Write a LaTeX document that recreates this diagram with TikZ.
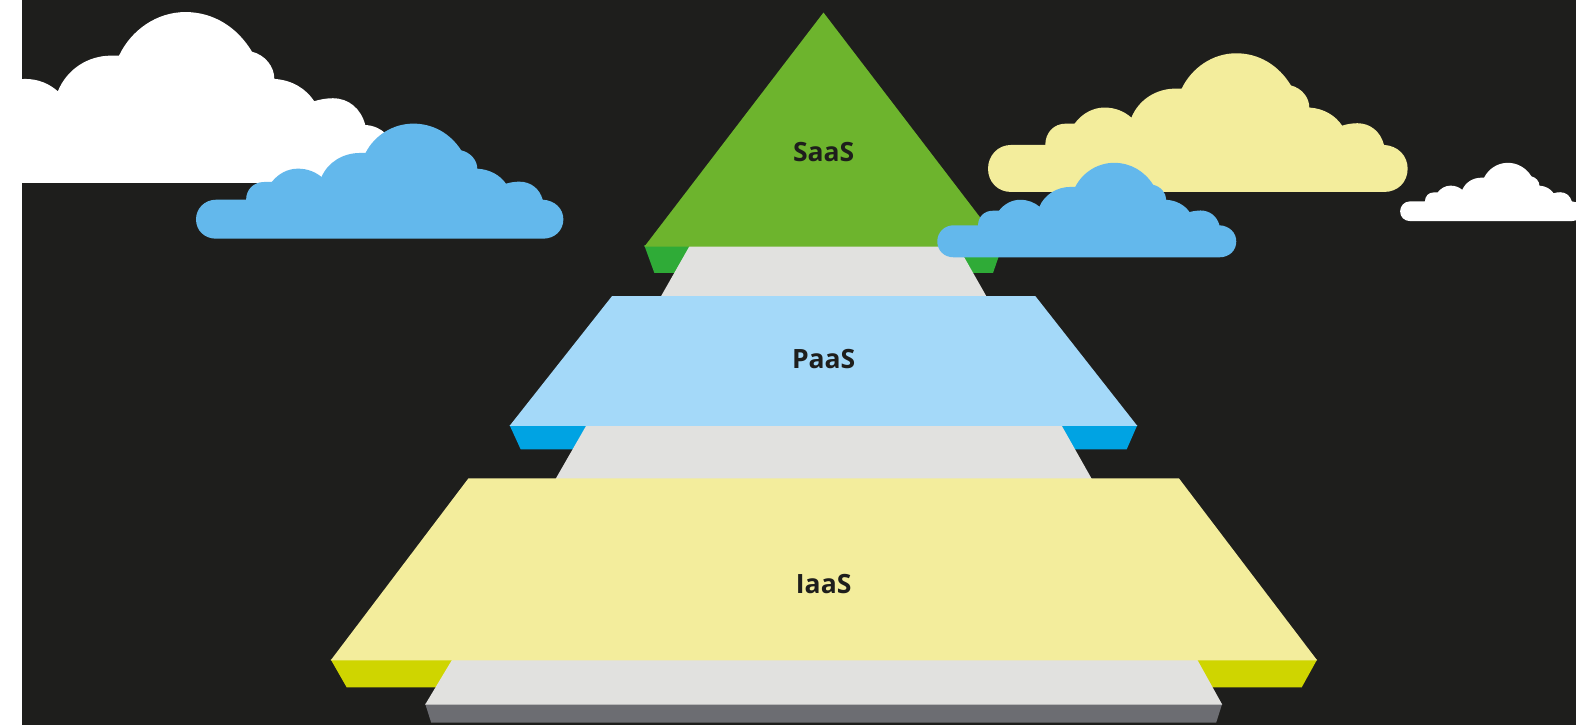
\documentclass[tikz,border=0pt]{standalone}
\usepackage{fontspec}
\setmainfont{Open Sans}
\definecolor{bgdark}{HTML}{1E1E1C}
\definecolor{saastop}{HTML}{6DB42D}
\definecolor{saasside}{HTML}{2FAB37}
\definecolor{slab}{HTML}{E1E1DF}
\definecolor{paastop}{HTML}{A4D9F9}
\definecolor{paasside}{HTML}{00A3E3}
\definecolor{iaastop}{HTML}{F3ED9C}
\definecolor{iaasside}{HTML}{CFD500}
\definecolor{baseside}{HTML}{6C6D72}
\definecolor{cloudblue}{HTML}{63B8EC}
\newcommand{\cloudshape}[5]{%
  \begin{scope}[shift={(#2,#3)},xscale=#4/960,yscale=#5/345]
    \fill[#1] (53,228) -- (131,228)
      .. controls (131,198) and (150,175) .. (178,175) -- (198,175)
      .. controls (215,150) and (240,135) .. (266,135)
      .. controls (292,135) and (312,145) .. (328,160)
      .. controls (345,115) and (385,88) .. (428,88) -- (443,88)
      .. controls (466,36) and (514,0) .. (568,0)
      .. controls (620,0) and (665,30) .. (693,80)
      .. controls (718,87) and (735,110) .. (735,135)
      .. controls (768,137) and (795,155) .. (810,180)
      .. controls (822,176) and (834,174) .. (845,174)
      .. controls (875,174) and (898,195) .. (906,228)
      .. controls (938,230) and (960,255) .. (960,287)
      .. controls (960,320) and (938,345) .. (906,345)
      -- (53,345)
      .. controls (22,345) and (0,320) .. (0,287)
      .. controls (0,255) and (22,228) .. (53,228) -- cycle;
  \end{scope}}
\begin{document}
\begin{tikzpicture}[x=0.5pt,y=-0.5pt,
  lbl/.style={font=\fontsize{13.2}{16}\selectfont\bfseries,text=bgdark,inner sep=0pt}]
\useasboundingbox (0,0) rectangle (1568,721.3);
\fill[white] (0,0) rectangle (1568,721.3);
\fill[bgdark] (22.3,0) rectangle (1568,721.3);
\begin{scope}
  \clip (0,0) rectangle (1568,721.3);
  % SaaS tier
  \fill[saasside] (641,244) -- (651,271.5) -- (988,271.5) -- (997.5,244) -- cycle;
  \fill[slab] (686.5,244) -- (657.5,295) -- (981.5,295) -- (952.5,244) -- cycle;
  \fill[saastop] (819.3,12.5) -- (997.5,245.5) -- (641,245.5) -- cycle;
  % PaaS tier
  \fill[paasside] (507,423) -- (518,447) -- (1121,447) -- (1131.5,423) -- cycle;
  \fill[slab] (583.5,423) -- (552.5,477) -- (1086.5,477) -- (1056,423) -- cycle;
  \fill[paastop] (609,294.5) -- (1030,294.5) -- (1131.5,423.7) -- (507,423.7) -- cycle;
  % IaaS tier
  \fill[iaasside] (329,656) -- (345,684) -- (1295,684) -- (1310.5,656) -- cycle;
  \fill[baseside] (423,700) -- (429,719) -- (1210,719) -- (1216,700) -- cycle;
  \fill[slab] (450,656) -- (423,701) -- (1216,701) -- (1191,656) -- cycle;
  \fill[iaastop] (466,476) -- (1173,476) -- (1310.5,657) -- (329,657) -- cycle;
  % clouds
  \cloudshape{white}{-116}{12}{508}{170}
  \cloudshape{cloudblue}{195}{123}{365.5}{114.5}
  \cloudshape{iaastop}{983}{53}{417.5}{138}
  \cloudshape{cloudblue}{932.5}{162}{297.5}{94}
  \cloudshape{white}{1393}{162}{181}{58}
\end{scope}
\node[lbl] (saas) at (819.5,151) {SaaS};
\node[lbl] (paas) at (819.5,357) {PaaS};
\node[lbl] (iaas) at (819.5,581) {IaaS};
\end{tikzpicture}
\end{document}
